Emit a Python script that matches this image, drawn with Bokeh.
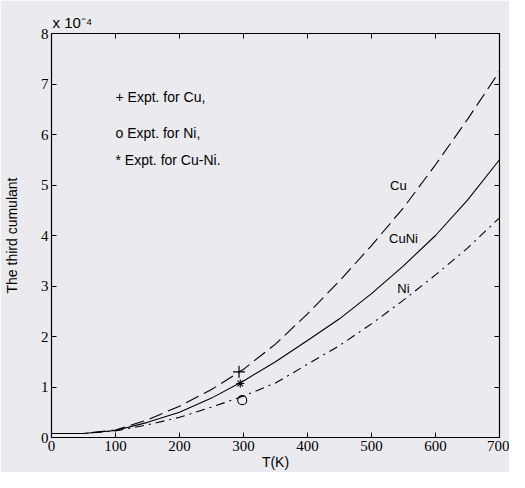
from bokeh.plotting import figure
from bokeh.models import Range1d, LinearAxis, FixedTicker, Label, Title
from bokeh.embed import file_html
from bokeh.resources import INLINE

# Temperature grid (K)
T = [0, 50, 100, 150, 200, 250, 300, 350, 400, 450, 500, 550, 600, 650, 700]
# third cumulant, in units of 1e-4
cu = [0.08, 0.08, 0.15, 0.35, 0.62, 0.95, 1.35, 1.85, 2.45, 3.10, 3.80, 4.55, 5.40, 6.30, 7.25]
cuni = [0.08, 0.08, 0.14, 0.30, 0.50, 0.78, 1.12, 1.50, 1.92, 2.35, 2.85, 3.40, 4.00, 4.70, 5.50]
ni = [0.08, 0.08, 0.13, 0.25, 0.40, 0.60, 0.82, 1.08, 1.45, 1.82, 2.25, 2.72, 3.22, 3.75, 4.35]

# experimental points
exp_cu_T, exp_cu = [293], [1.30]
exp_cuni_T, exp_cuni = [295], [1.07]
exp_ni_T, exp_ni = [298], [0.74]

x_ticks = [0, 100, 200, 300, 400, 500, 600, 700]
y_ticks = [0, 1, 2, 3, 4, 5, 6, 7, 8]

legend_lines = ["+ Expt. for Cu,", "o Expt. for Ni,", "* Expt. for Cu-Ni."]
legend_y = [6.75, 6.03, 5.50]

curve_labels = ["Cu", "CuNi", "Ni"]
curve_label_x = [542, 550, 550]
curve_label_y = [5.0, 3.94, 2.95]

scale_text = "x 10\u207b\u2074"

BG = "#ebebef"
FONT = "Liberation Sans"
TICKFONT = "Liberation Sans Narrow"

p = figure(width=509, height=472, x_range=Range1d(0, 700), y_range=Range1d(0, 8),
           output_backend="svg", toolbar_location=None,
           min_border_left=50, min_border_right=10, min_border_top=33, min_border_bottom=33,
           background_fill_color=BG, border_fill_color=BG)
p.grid.visible = False
p.outline_line_color = "black"
p.outline_line_width = 1.2

for ax in (p.xaxis[0], p.yaxis[0]):
    ax.major_tick_in = 5
    ax.major_tick_out = 0
    ax.minor_tick_in = 0
    ax.minor_tick_out = 0
    ax.axis_line_color = "black"
    ax.major_tick_line_color = "black"
    ax.major_label_text_font = TICKFONT
    ax.major_label_text_font_size = "15px"
    ax.major_label_text_color = "black"
    ax.axis_label_text_font = FONT
    ax.axis_label_text_font_size = "14px"
    ax.axis_label_text_font_style = "normal"
    ax.axis_label_text_color = "black"
    ax.major_label_standoff = 3

p.xaxis[0].ticker = FixedTicker(ticks=x_ticks)
p.yaxis[0].ticker = FixedTicker(ticks=y_ticks)
p.xaxis[0].axis_label = "T(K)"
p.xaxis[0].axis_label_standoff = 0
p.yaxis[0].axis_label = "The third cumulant"
p.yaxis[0].axis_label_standoff = 18

top = LinearAxis(ticker=FixedTicker(ticks=x_ticks), major_label_text_font_size="0px",
                 major_tick_in=5, major_tick_out=0, minor_tick_in=0, minor_tick_out=0,
                 major_label_standoff=0, axis_line_color="black")
right = LinearAxis(ticker=FixedTicker(ticks=y_ticks), major_label_text_font_size="0px",
                   major_tick_in=5, major_tick_out=0, minor_tick_in=0, minor_tick_out=0,
                   major_label_standoff=0, axis_line_color="black")
p.add_layout(top, "above")
p.add_layout(right, "right")

# scale factor above the frame
p.add_layout(Title(text=scale_text, align="left", offset=1, standoff=5,
                   text_font=FONT, text_font_size="15px", text_font_style="normal",
                   text_color="black"), "above")

p.line(T, cu, line_color="black", line_width=1.1, line_dash="14 6")
p.line(T, cuni, line_color="black", line_width=1.1)
p.line(T, ni, line_color="black", line_width=1.1, line_dash="9 5 2 5")

p.scatter(exp_cu_T, exp_cu, marker="cross", size=12, line_color="black", line_width=1.2)
p.scatter(exp_cuni_T, exp_cuni, marker="asterisk", size=8, line_color="black", line_width=1.1)
p.scatter(exp_ni_T, exp_ni, marker="circle", size=9, line_color="black", fill_color=None, line_width=1.1)

for txt, yy in zip(legend_lines, legend_y):
    p.add_layout(Label(x=100, y=yy, text=txt, text_font=FONT, text_font_size="14px",
                       text_color="black", text_baseline="middle", text_align="left"))

for txt, xx, yy in zip(curve_labels, curve_label_x, curve_label_y):
    p.add_layout(Label(x=xx, y=yy, text=txt, text_font=FONT, text_font_size="13px",
                       text_color="black", text_baseline="middle", text_align="center"))

open("out.html", "w").write(file_html(p, INLINE))
